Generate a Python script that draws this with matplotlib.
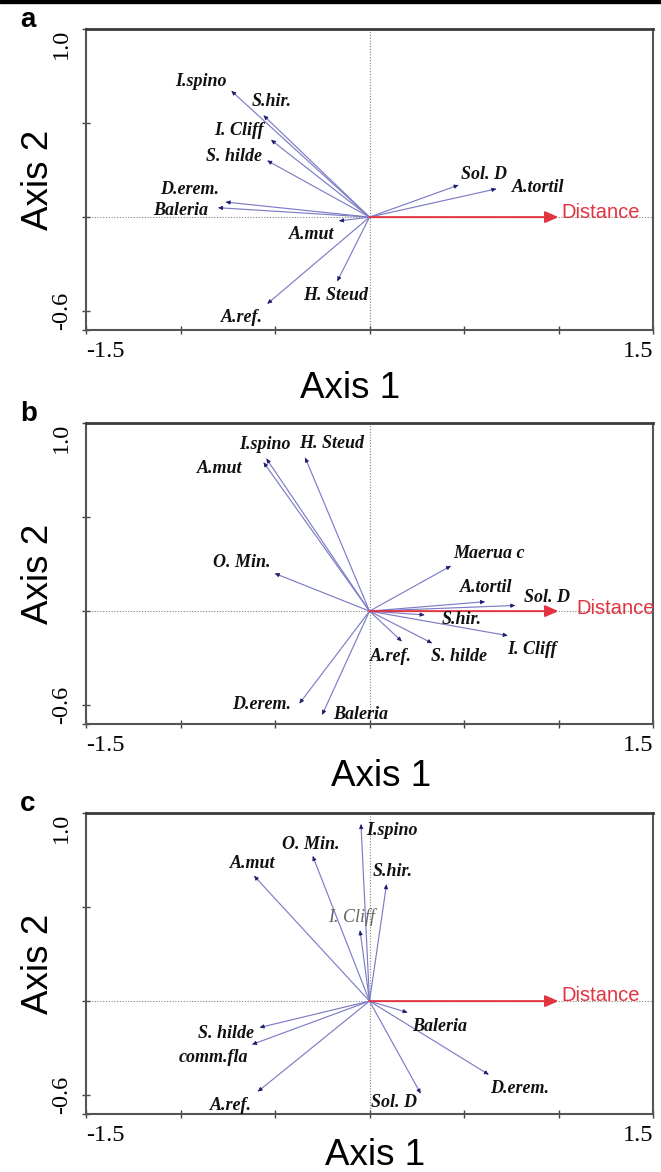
import numpy as np
import matplotlib
matplotlib.use("Agg")
import matplotlib.pyplot as plt

# species vectors (axis 1, axis 2)
names_a = ["I.spino", "S.hir.", "I. Cliff", "S. hilde", "D.erem.", "Baleria",
           "A.mut", "H. Steud", "A.ref.", "Sol. D", "A.tortil"]
x_a = [-0.73, -0.56, -0.52, -0.54, -0.76, -0.80, -0.16, -0.17, -0.54, 0.47, 0.67]
y_a = [0.67, 0.54, 0.41, 0.30, 0.08, 0.05, -0.02, -0.34, -0.46, 0.17, 0.15]

names_b = ["I.spino", "A.mut", "H. Steud", "O. Min.", "D.erem.", "Baleria",
           "Maerua c", "A.tortil", "Sol. D", "S.hir.", "I. Cliff", "S. hilde", "A.ref."]
x_b = [-0.545, -0.56, -0.34, -0.50, -0.37, -0.25, 0.43, 0.61, 0.77, 0.29, 0.73, 0.33, 0.17]
y_b = [0.81, 0.79, 0.815, 0.20, -0.49, -0.55, 0.24, 0.05, 0.03, -0.02, -0.13, -0.17, -0.16]

names_c = ["I.spino", "O. Min.", "A.mut", "I. Cliff", "S.hir.", "S. hilde",
           "comm.fla", "A.ref.", "Baleria", "D.erem.", "Sol. D"]
x_c = [-0.045, -0.30, -0.61, -0.05, 0.09, -0.58, -0.62, -0.59, 0.20, 0.63, 0.27]
y_c = [0.94, 0.77, 0.665, 0.375, 0.62, -0.14, -0.23, -0.48, -0.06, -0.39, -0.49]

# environmental vector
dist_x = 1.0
dist_y = 0.0

# label offsets from arrow tip, in pixels (layout only)
off_a = [(-31, 10), (8, 14), (-32, 9), (-33, 4), (-36, 13), (-38, -3),
         (-28, -14), (-2, -14), (-26, -14), (26, 11), (42, 1)]
off_b = [(-2, 14), (-44, -6), (26, 14), (-33, 11), (-38, -1), (38, 0),
         (38, 12), (1, 14), (32, 8), (37, -5), (25, -14), (27, -13), (-11, -15)]
off_c = [(31, -6), (-2, 12), (-2, 13), (-8, 14), (6, 13), (-34, -6),
         (-39, -13), (-27, -14), (32, -14), (31, -14), (-27, -9)]
dist_off = {"a": (3, 5), "b": (18, 3), "c": (3, 6)}
# x-label centre (px) and baseline distance below the axes (px)
xlab_pos = {"a": (350, 68), "b": (381, 62), "c": (375, 51)}

LINE = "#7d7dc6"
HEAD = "#1e1e6e"
RED = "#e23341"
PX = 72 / 100  # pixel -> point at dpi 100

fig = plt.figure(figsize=(6.61, 11.72), dpi=100)
W, H = 661, 1172
fig.add_artist(plt.Rectangle((0, 1 - 3 / H), 1, 3 / H, transform=fig.transFigure,
                             color="black"))

panels = [
    ("a", names_a, x_a, y_a, off_a, 330),
    ("b", names_b, x_b, y_b, off_b, 724),
    ("c", names_c, x_c, y_c, off_c, 1114),
]

for letter, names, xs, ys, offs, bottom_px in panels:
    ax = fig.add_axes([86 / W, 1 - bottom_px / H, 567 / W, 301 / H])
    ax.set_xlim(-1.5, 1.5)
    ax.set_ylim(-0.6, 1.0)

    ax.axhline(0, color="#808080", lw=0.8, ls=(0, (1, 1.5)), zorder=1)
    ax.axvline(0, color="#808080", lw=0.8, ls=(0, (1, 1.5)), zorder=1)

    for name, x, y, (dx, dy) in zip(names, xs, ys, offs):
        ax.plot([0, x], [0, y], color=LINE, lw=0.85, solid_capstyle="butt", zorder=2)
        L = np.hypot(x, y)
        ax.annotate("", xy=(x, y), xytext=(x - 0.025 * x / L, y - 0.025 * y / L),
                    arrowprops=dict(arrowstyle="-|>", mutation_scale=6, color=HEAD,
                                    lw=0.6, shrinkA=0, shrinkB=0), zorder=3)
        faint = (letter == "c" and name == "I. Cliff")
        ax.annotate(name, xy=(x, y), xytext=(dx * PX, dy * PX),
                    textcoords="offset points", ha="center", va="center",
                    fontsize=13, family="Liberation Serif", style="italic",
                    fontweight="normal" if faint else "bold",
                    color="#666666" if faint else "#111111", zorder=4)

    ax.annotate("", xy=(dist_x, dist_y), xytext=(0, 0),
                arrowprops=dict(arrowstyle="-|>,head_length=0.5,head_width=0.22",
                                mutation_scale=16, color=RED, lw=1.4,
                                shrinkA=0, shrinkB=0), zorder=3)
    ddx, ddy = dist_off[letter]
    ax.annotate("Distance", xy=(dist_x, dist_y), xytext=(ddx * PX, ddy * PX),
                textcoords="offset points", ha="left", va="center", fontsize=14.5,
                family="Liberation Sans", color=RED, annotation_clip=False,
                zorder=4).set_clip_on(False)

    for side, sp in ax.spines.items():
        sp.set_color("#555555")
        sp.set_linewidth(1.5)
    ax.spines["top"].set_color("#3a3a3a")
    ax.spines["top"].set_linewidth(2)

    ax.set_xticks(np.arange(-1.5, 1.51, 0.5))
    ax.set_xticklabels(["-1.5", "", "", "", "", "", "1.5"],
                       family="Liberation Serif", fontsize=17.5)
    ax.set_yticks([-0.6, -0.5, 0, 0.5, 1.0])
    ax.set_yticklabels(["-0.6", "", "", "", "1.0"], family="Liberation Serif",
                       fontsize=17.5, rotation=90)
    ax.tick_params(direction="inout", length=6, width=1, color="#444444")
    ax.tick_params(axis="x", pad=5)
    ax.tick_params(axis="y", pad=7)
    xl = ax.get_xticklabels()
    xl[0].set_ha("left")
    xl[-1].set_ha("right")
    yl = ax.get_yticklabels()
    yl[0].set_va("bottom")
    yl[-1].set_va("top")

    lx, ly = xlab_pos[letter]
    ax.set_xlabel("Axis 1", fontsize=26.5, family="Liberation Sans")
    ax.xaxis.set_label_coords((lx - 86) / 567, -ly / 301)
    ax.xaxis.label.set_va("baseline")
    ax.set_ylabel("Axis 2", fontsize=26.5, family="Liberation Sans")
    ax.yaxis.set_label_coords((48 - 86) / 567, 0.5)
    ax.yaxis.label.set_rotation_mode("anchor")
    ax.yaxis.label.set_va("baseline")
    ax.yaxis.label.set_ha("center")

    fig.text(20 / W, 1 - (bottom_px - 303) / H, letter, fontsize=20,
             fontweight="bold", family="Liberation Sans", va="baseline")

fig.savefig("out.png", dpi=100)
